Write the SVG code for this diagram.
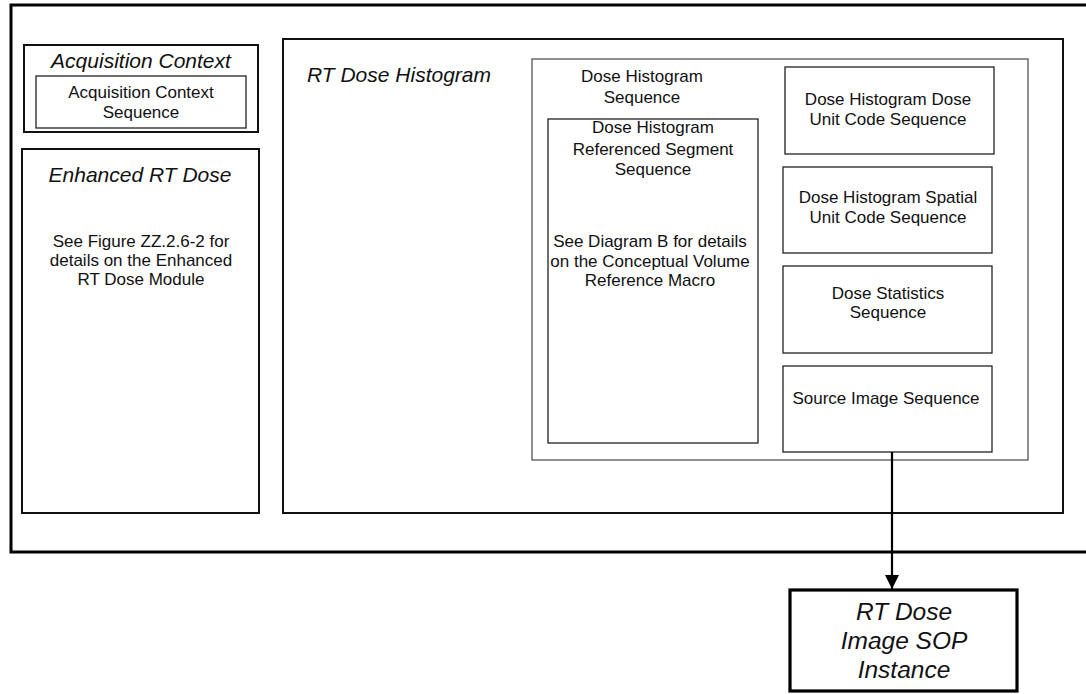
<svg xmlns="http://www.w3.org/2000/svg" width="1086" height="694" viewBox="0 0 1086 694">
  <style>
    .frame { fill: none; stroke: #000; stroke-width: 3; }
    .module { fill: #fff; stroke: #111; stroke-width: 2; }
    .seq { fill: #fff; stroke: #222; stroke-width: 1.3; }
    .outerseq { fill: #fff; stroke: #555; stroke-width: 1.3; }
    .sop { fill: #fff; stroke: #000; stroke-width: 3.2; }
    .title { font-family: "Liberation Sans", Arial, sans-serif; font-style: italic; font-size: 21px; fill: #111; text-anchor: middle; }
    .titleL { font-family: "Liberation Sans", Arial, sans-serif; font-style: italic; font-size: 21px; fill: #111; }
    .label { font-family: "Liberation Sans", Arial, sans-serif; font-size: 17px; fill: #111; text-anchor: middle; }
    .soplabel { font-family: "Liberation Sans", Arial, sans-serif; font-style: italic; font-size: 24.5px; fill: #111; text-anchor: middle; }
    .link { fill: none; stroke: #000; stroke-width: 2.2; }
  </style>
  <defs>
    <marker id="arrow" markerUnits="userSpaceOnUse" markerWidth="14" markerHeight="14" viewBox="0 0 14 14" refX="14" refY="7" orient="auto">
      <path d="M0,0 L14,7 L0,14 Z" fill="#000"/>
    </marker>
  </defs>
  <rect width="1086" height="694" fill="#fff"/>

  <!-- IOD frame (open on the right) -->
  <g id="iod-frame">
    <rect class="frame" x="11" y="5" width="1100" height="547"/>
  </g>

  <g id="acquisition-context">
    <rect class="module" x="24" y="45" width="234" height="87"/>
    <text class="title" x="141" y="68">Acquisition Context</text>
    <g id="acquisition-context-sequence">
      <rect class="seq" x="36" y="76" width="210" height="52"/>
      <text class="label" x="141" y="98">Acquisition Context</text>
      <text class="label" x="141" y="118">Sequence</text>
    </g>
  </g>

  <g id="enhanced-rt-dose">
    <rect class="module" x="22" y="149" width="237" height="364"/>
    <text class="title" x="140" y="182">Enhanced RT Dose</text>
    <text class="label" x="141" y="247">See Figure ZZ.2.6-2 for</text>
    <text class="label" x="141" y="266">details on the Enhanced</text>
    <text class="label" x="141" y="285">RT Dose Module</text>
  </g>

  <g id="rt-dose-histogram">
    <rect class="module" x="283" y="39" width="780" height="474"/>
    <text class="titleL" x="307" y="82">RT Dose Histogram</text>
  </g>

  <g id="dose-histogram-sequence">
    <rect class="outerseq" x="532" y="59" width="496" height="401"/>
    <text class="label" x="642" y="82">Dose Histogram</text>
    <text class="label" x="642" y="103">Sequence</text>
  </g>

  <g id="referenced-segment-sequence">
    <rect class="seq" x="548" y="119" width="210" height="324"/>
    <text class="label" x="653" y="133">Dose Histogram</text>
    <text class="label" x="653" y="155">Referenced Segment</text>
    <text class="label" x="653" y="175">Sequence</text>
    <text class="label" x="650" y="247">See Diagram B for details</text>
    <text class="label" x="650" y="267">on the Conceptual Volume</text>
    <text class="label" x="650" y="286">Reference Macro</text>
  </g>

  <g id="dose-unit-code-sequence">
    <rect class="seq" x="785" y="67" width="209" height="87"/>
    <text class="label" x="888" y="105">Dose Histogram Dose</text>
    <text class="label" x="888" y="125">Unit Code Sequence</text>
  </g>

  <g id="spatial-unit-code-sequence">
    <rect class="seq" x="783" y="167" width="209" height="86"/>
    <text class="label" x="888" y="203">Dose Histogram Spatial</text>
    <text class="label" x="888" y="223">Unit Code Sequence</text>
  </g>

  <g id="dose-statistics-sequence">
    <rect class="seq" x="783" y="266" width="209" height="87"/>
    <text class="label" x="888" y="299">Dose Statistics</text>
    <text class="label" x="888" y="318">Sequence</text>
  </g>

  <g id="source-image-sequence">
    <rect class="seq" x="783" y="366" width="209" height="86"/>
    <text class="label" x="886" y="404">Source Image Sequence</text>
  </g>

  <g id="rt-dose-image-sop-instance">
    <rect class="sop" x="790" y="590" width="227" height="101"/>
    <text class="soplabel" x="904" y="620">RT Dose</text>
    <text class="soplabel" x="904" y="649">Image SOP</text>
    <text class="soplabel" x="904" y="678">Instance</text>
  </g>

  <g id="connectors">
    <path class="link" d="M892,452 L892,589" marker-end="url(#arrow)"/>
  </g>
</svg>
